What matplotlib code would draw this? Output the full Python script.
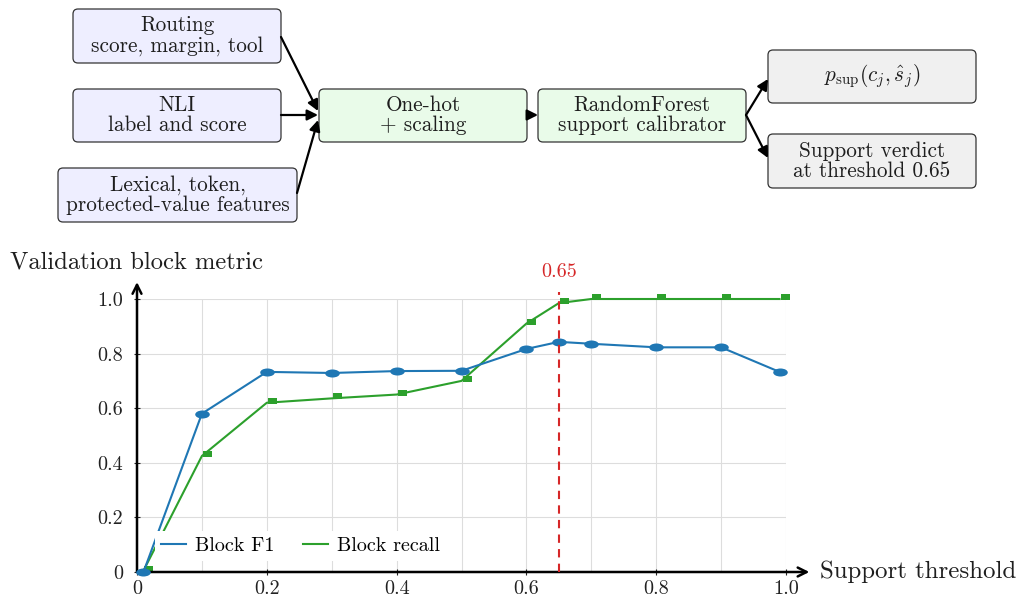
import matplotlib
matplotlib.use('Agg')
import matplotlib.pyplot as plt
from matplotlib.patches import FancyBboxPatch
from matplotlib.path import Path
from matplotlib.transforms import Affine2D
import numpy as np

plt.rcParams['font.family'] = 'serif'
plt.rcParams['font.serif'] = ['cmr10', 'DejaVu Serif']
plt.rcParams['mathtext.fontset'] = 'cm'
plt.rcParams['axes.unicode_minus'] = False

# data
thresholds = [0.01, 0.1, 0.2, 0.3, 0.4, 0.5, 0.6, 0.65, 0.7, 0.8, 0.9, 0.99]
block_f1 = [0.0, 0.58, 0.733, 0.729, 0.736, 0.737, 0.817, 0.843, 0.836, 0.823, 0.823, 0.733]
block_recall = [0.005, 0.425, 0.62, 0.636, 0.65, 0.70, 0.91, 0.985, 1.0, 1.0, 1.0, 1.0]
chosen_threshold = 0.65
x_ticks = [0, 0.2, 0.4, 0.6, 0.8, 1.0]
x_tick_labels = ['0', '0.2', '0.4', '0.6', '0.8', '1.0']
y_ticks = [0, 0.2, 0.4, 0.6, 0.8, 1.0]
y_tick_labels = ['0', '0.2', '0.4', '0.6', '0.8', '1.0']

input_boxes = ['Routing\nscore, margin, tool', 'NLI\nlabel and score',
               'Lexical, token,\nprotected-value features']
middle_boxes = ['One-hot\n+ scaling', 'RandomForest\nsupport calibrator']
output_boxes = [r'$p_{\mathrm{sup}}(c_j,\hat{s}_j)$',
                'Support verdict\nat threshold 0.65']

fig = plt.figure(figsize=(10.18, 5.99), dpi=100)

# ---- pipeline diagram (pixel coordinates) ----
ax0 = fig.add_axes([0, 0, 1, 1])
ax0.set_xlim(0, 1018)
ax0.set_ylim(599, 0)
ax0.axis('off')

def box(x0, y0, x1, y1, text, fc):
    p = FancyBboxPatch((x0, y0), x1 - x0, y1 - y0,
                       boxstyle='round,pad=0,rounding_size=5',
                       fc=fc, ec='#333333', lw=0.9)
    ax0.add_patch(p)
    ax0.text((x0 + x1) / 2, (y0 + y1) / 2, text, ha='center', va='center',
             fontsize=15.3, linespacing=1.05, color='#1e1e1e')

def arrow(a, b):
    ax0.annotate('', xy=b, xytext=a,
                 arrowprops=dict(arrowstyle='-|>', lw=1.6, color='black',
                                 mutation_scale=16, shrinkA=0, shrinkB=0))

lav = '#eeeeff'
grn = '#e9fbe9'
gry = '#f0f0f0'
box(73, 9, 281, 63, input_boxes[0], lav)
box(73, 89, 281, 142, input_boxes[1], lav)
box(58, 168, 297, 222, input_boxes[2], lav)
box(319, 89, 527, 142, middle_boxes[0], grn)
box(538, 89, 746, 142, middle_boxes[1], grn)
box(768, 50, 976, 103, output_boxes[0], gry)
box(768, 134, 976, 188, output_boxes[1], gry)

arrow((281, 37), (318, 111))
arrow((281, 115), (318, 115))
arrow((297, 193), (318, 120))
arrow((527, 115), (538, 115))
arrow((746, 115), (768, 79))
arrow((746, 115), (768, 158))

# ---- metric chart ----
ax = fig.add_axes([137 / 1018, 1 - 572 / 599, 649 / 1018, 273 / 599])
ax.set_facecolor('none')
ax.set_xlim(0, 1)
ax.set_ylim(0, 1)

ellipse = Path.unit_circle().transformed(Affine2D().scale(1.0, 0.55))
rect = Path([(0.5, -0.6), (9.5, -0.6), (9.5, 4.6), (0.5, 4.6), (0.5, -0.6)],
            [Path.MOVETO, Path.LINETO, Path.LINETO, Path.LINETO, Path.CLOSEPOLY])

blue = '#1f77b4'
green = '#2ca02c'
ax.plot(thresholds, block_f1, color=blue, lw=1.5, marker=ellipse, ms=10.5,
        mew=0, mfc=blue, clip_on=False, zorder=4, label='Block F1')
ax.plot(thresholds, block_recall, color=green, lw=1.5, marker=rect, ms=13.7,
        mew=0, mfc=green, clip_on=False, zorder=3, label='Block recall')

ax.plot([chosen_threshold, chosen_threshold], [0, 1.025], color='#d62728',
        lw=1.5, ls=(0, (4, 3)), clip_on=False, zorder=5)
ax.text(chosen_threshold, 1.1, f'{chosen_threshold:.2f}', color='#d62728',
        ha='center', va='center', fontsize=14.5)

for s in ax.spines.values():
    s.set_visible(False)
ax.annotate('', xy=(1.036, 0), xytext=(0, 0), annotation_clip=False,
            arrowprops=dict(arrowstyle='->', lw=1.8, color='black',
                            mutation_scale=16, shrinkA=0, shrinkB=0))
ax.annotate('', xy=(0, 1.062), xytext=(0, 0), annotation_clip=False,
            arrowprops=dict(arrowstyle='->', lw=1.8, color='black',
                            mutation_scale=16, shrinkA=0, shrinkB=0))

ax.set_xticks(x_ticks)
ax.set_xticklabels(x_tick_labels)
ax.set_xticks(np.arange(0.1, 1.0, 0.2), minor=True)
ax.set_yticks(y_ticks)
ax.set_yticklabels(y_tick_labels)
ax.tick_params(axis='both', which='major', direction='inout', length=4,
               width=0.8, labelsize=14.5, colors='#222222')
ax.tick_params(axis='x', which='major', pad=4)
ax.tick_params(axis='y', which='major', pad=8)
ax.tick_params(axis='x', which='minor', length=0)
ax.grid(True, which='both', axis='x', color='#dddddd', lw=0.8)
ax.grid(True, which='major', axis='y', color='#dddddd', lw=0.8)
ax.set_axisbelow(True)

fig.text(10 / 1018, 1 - 262 / 599, 'Validation block metric', fontsize=17.7,
         ha='left', va='center', color='#1e1e1e')
fig.text(820 / 1018, 1 - 572 / 599, 'Support threshold', fontsize=17.9,
         ha='left', va='center', color='#1e1e1e')

leg = ax.legend(loc='center left', bbox_to_anchor=(0.012, 0.095), ncol=2,
                frameon=True, fancybox=False, framealpha=1, edgecolor='none',
                facecolor='white', fontsize=14.5, handlelength=1.25,
                handletextpad=0.45, columnspacing=1.4, borderpad=0.3)
for h in leg.legend_handles:
    h.set_marker('')

fig.savefig('out.png', dpi=100)
